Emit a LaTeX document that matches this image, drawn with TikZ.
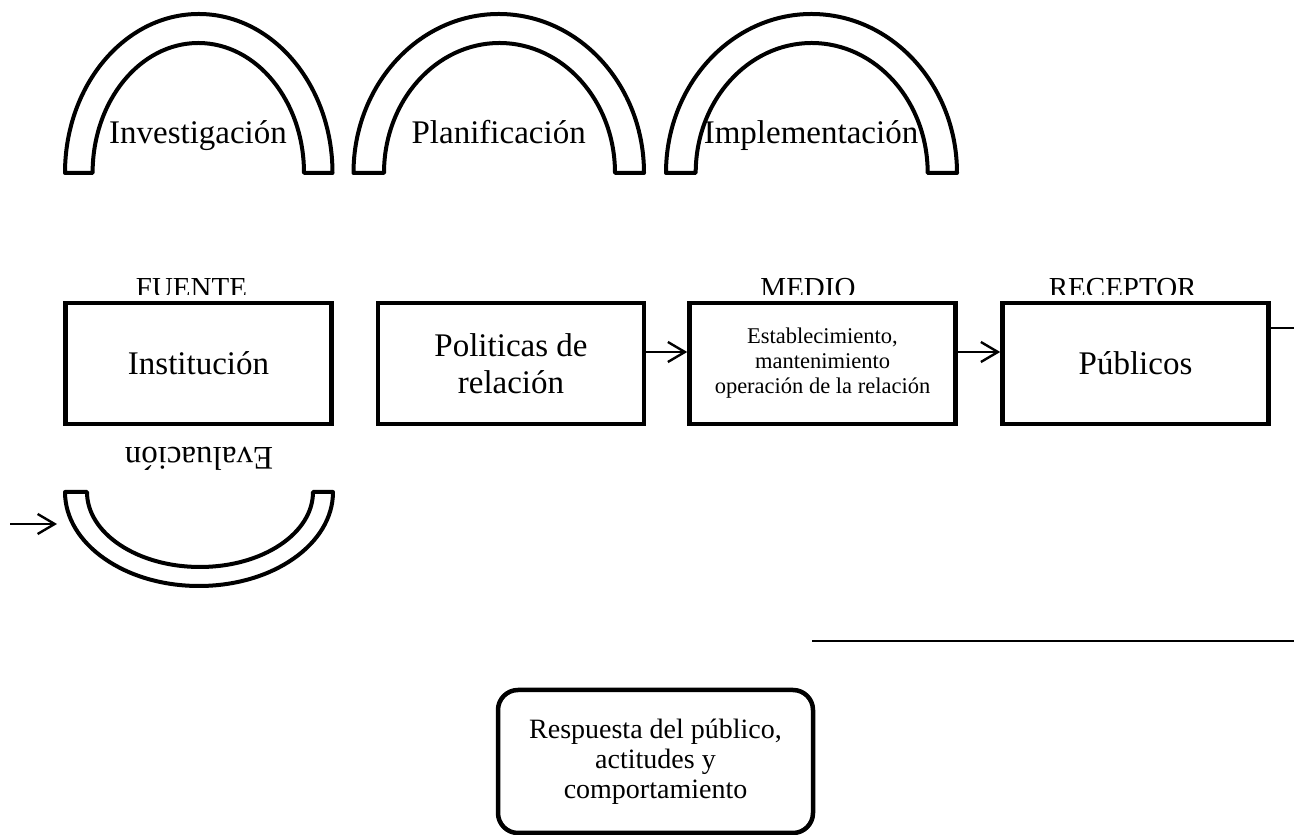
\documentclass[tikz,border=0pt]{standalone}
\usepackage{fontspec}
\setmainfont{Liberation Serif}
\usetikzlibrary{arrows.meta}

\begin{document}
\begin{tikzpicture}[x=1pt, y=1pt, >={Straight Barb[length=17pt,width=20pt]}]
	\tikzset{arco/.style={line width=4pt, line join=round},
		caja/.style={draw, line width=4.5pt, minimum width=266pt, minimum height=121pt, inner sep=0pt, align=center, font=\fontsize{33}{37}\selectfont},
		etiq/.style={anchor=base, inner sep=0pt, font=\fontsize{33}{37}\selectfont},
		cabecera/.style={anchor=base, inner sep=0pt, font=\fontsize{29}{33}\selectfont},
		flecha/.style={->, line width=2.4pt}}
	\useasboundingbox (0,0) rectangle (1294,835);
	% arcos de arriba
	\draw[arco] (65,662) arc[start angle=180, end angle=0, x radius=133.75, y radius=159] -- (304,662) arc[start angle=0, end angle=180, x radius=105.7, y radius=130] -- cycle;
	\draw[arco] (353.5,662) arc[start angle=180, end angle=0, x radius=145.25, y radius=159] -- (615,662) arc[start angle=0, end angle=180, x radius=115.5, y radius=130] -- cycle;
	\draw[arco] (666,662) arc[start angle=180, end angle=0, x radius=145.5, y radius=159] -- (927.7,662) arc[start angle=0, end angle=180, x radius=116, y radius=130] -- cycle;
	\node[etiq] (inv) at (198,691) {Investigación};
	\node[etiq] (plan) at (498.7,691) {Planificación};
	\node[etiq] (impl) at (811,691) {Implementación};
	% cabeceras, cortadas por abajo
	\begin{scope}
		\clip (0,540) rectangle (1294,600);
		\node[cabecera] (fuente) at (191.5,537) {FUENTE};
		\node[cabecera] (medio) at (808,537) {MEDIO};
		\node[cabecera] (receptor) at (1122.7,537) {RECEPTOR};
	\end{scope}
	\node[caja] (inst) at (198.5,471.5) {Institución};
	\node[caja] (pol) at (511,471.5) {Politicas de\\relación};
	\node[caja, font=\fontsize{22.5}{25}\selectfont] (med) at (822.5,471.5) {Establecimiento,\\mantenimiento\\operación de la relación};
	\node[caja] (pub) at (1135.5,471.5) {Públicos};
	\draw[flecha] ([yshift=11.5pt]pol.east) -- ([yshift=11.5pt]med.west);
	\draw[flecha] ([yshift=11.5pt]med.east) -- ([yshift=11.5pt]pub.west);
	\coordinate (borde) at (1294,507);
	\draw[line width=2.2pt] (pub.east |- borde) -- (borde);
	% evaluacion, boca abajo
	\node[etiq, rotate=180] (eval) at (199,387) {Evaluación};
	\draw[arco] (65,343) arc[start angle=180, end angle=360, x radius=134, y radius=94] -- (313,343) arc[start angle=360, end angle=180, x radius=113, y radius=75] -- cycle;
	\coordinate (ini) at (10,311);
	\coordinate (fin) at (57,311);
	\draw[flecha] (ini) -- (fin);
	\coordinate (lin1) at (812,194);
	\coordinate (lin2) at (1294,194);
	\draw[line width=2.2pt] (lin1) -- (lin2);
	\node[caja, rounded corners=20pt, minimum width=315pt, minimum height=143pt, font=\fontsize{28}{30}\selectfont] (resp) at (655.5,73.5) {Respuesta del público,\\actitudes y\\comportamiento};
\end{tikzpicture}
\end{document}
